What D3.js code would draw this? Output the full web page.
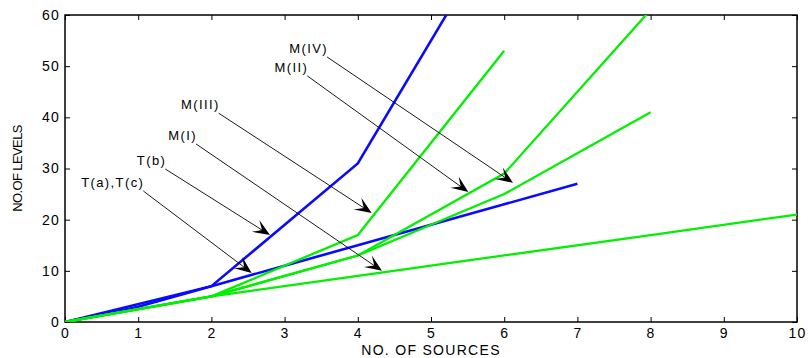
<!DOCTYPE html>
<html>
<head>
<meta charset="utf-8">
<script src="https://cdnjs.cloudflare.com/ajax/libs/d3/7.8.5/d3.min.js"></script>
<style>
  body { margin: 0; background: #fff; }
  text { font-family: "Liberation Sans", Arial, Helvetica, sans-serif; fill: #000; }
</style>
</head>
<body>
<div id="chart"></div>
<script>
// x values (no. of sources) and y values (no. of levels) per curve
var taX = [0, 1, 2, 3, 4, 5, 6, 7];
var taY = [0, 3, 7, 11, 15, 19, 23, 27];
var tbX = [0, 2, 4, 6];
var tbY = [0, 7, 31, 79];
var m1X = [0, 2, 4, 6, 8, 10];
var m1Y = [0, 5, 9, 13, 17, 21];
var m2X = [0, 2, 4, 6, 8];
var m2Y = [0, 5, 13, 25, 41];
var m3X = [0, 2, 4, 6];
var m3Y = [0, 5, 17, 53];
var m4X = [0, 2, 4, 6, 8];
var m4Y = [0, 5, 13, 29, 61];

var xTicks = [0, 1, 2, 3, 4, 5, 6, 7, 8, 9, 10];
var yTicks = [0, 10, 20, 30, 40, 50, 60];

// annotation labels with tail and head of the arrow, in data units
var labels = ["M(IV)", "M(II)", "M(III)", "M(I)", "T(b)", "T(a),T(c)"];
var tailX = [3.58, 3.31, 2.10, 1.79, 1.37, 1.07];
var tailY = [51.8, 48.1, 40.8, 34.8, 29.9, 25.6];
var headX = [6.12, 5.51, 4.19, 4.33, 2.80, 2.55];
var headY = [27.2, 25.4, 21.3, 10.0, 17.0, 9.6];

var width = 808, height = 358;
var margin = {top: 15, right: 11, bottom: 36, left: 65};

var svg = d3.select("#chart").append("svg")
  .attr("width", width)
  .attr("height", height);

var x = d3.scaleLinear().domain([0, 10]).range([margin.left, width - margin.right]);
var y = d3.scaleLinear().domain([0, 60]).range([height - margin.bottom, margin.top]);

svg.append("defs").append("clipPath")
  .attr("id", "plotclip")
  .append("rect")
  .attr("x", x(0))
  .attr("y", y(60))
  .attr("width", x(10) - x(0))
  .attr("height", y(0) - y(60));

function styleAxis(g) {
  g.select(".domain").remove();
  g.selectAll(".tick line").attr("stroke", "#000");
  g.selectAll("text")
    .style("font-size", "14px")
    .style("letter-spacing", "1.2px")
    .attr("fill", "#000");
}

// inward ticks on all four sides
svg.append("g")
  .attr("transform", "translate(0," + y(0) + ")")
  .call(d3.axisBottom(x).tickValues(xTicks).tickSize(-5).tickSizeOuter(0).tickPadding(6))
  .call(styleAxis);
svg.append("g")
  .attr("transform", "translate(0," + y(60) + ")")
  .call(d3.axisTop(x).tickValues(xTicks).tickSize(-5).tickSizeOuter(0).tickFormat(""))
  .call(styleAxis);
svg.append("g")
  .attr("transform", "translate(" + x(0) + ",0)")
  .call(d3.axisLeft(y).tickValues(yTicks).tickSize(-5).tickSizeOuter(0).tickPadding(5))
  .call(styleAxis);
svg.append("g")
  .attr("transform", "translate(" + x(10) + ",0)")
  .call(d3.axisRight(y).tickValues(yTicks).tickSize(-5).tickSizeOuter(0).tickFormat(""))
  .call(styleAxis);

svg.append("rect")
  .attr("x", x(0))
  .attr("y", y(60))
  .attr("width", x(10) - x(0))
  .attr("height", y(0) - y(60))
  .attr("fill", "none")
  .attr("stroke", "#000")
  .attr("stroke-width", 1.5);

var line = d3.line()
  .x(function(d) { return x(d[0]); })
  .y(function(d) { return y(d[1]); });

function drawCurve(xs, ys, color, w) {
  svg.append("path")
    .datum(d3.zip(xs, ys))
    .attr("clip-path", "url(#plotclip)")
    .attr("fill", "none")
    .attr("stroke", color)
    .attr("stroke-width", w)
    .attr("stroke-linejoin", "miter")
    .attr("d", line);
}

var blue = "#0a0aff", green = "#00f000";
drawCurve(taX, taY, blue, 2.6);
drawCurve(tbX, tbY, blue, 2.6);
drawCurve(m1X, m1Y, green, 2.3);
drawCurve(m2X, m2Y, green, 2.3);
drawCurve(m3X, m3Y, green, 2.3);
drawCurve(m4X, m4Y, green, 2.3);

// annotation arrows, matlab style notched heads
var ann = svg.append("g");
labels.forEach(function(lab, i) {
  var x1 = x(tailX[i]), y1 = y(tailY[i]);
  var x2 = x(headX[i]), y2 = y(headY[i]);
  var ang = Math.atan2(y2 - y1, x2 - x1) * 180 / Math.PI;
  var L = 17, W = 7;

  ann.append("line")
    .attr("x1", x1).attr("y1", y1)
    .attr("x2", x2 - 9 * Math.cos(ang * Math.PI / 180))
    .attr("y2", y2 - 9 * Math.sin(ang * Math.PI / 180))
    .attr("stroke", "#000")
    .attr("stroke-width", 0.9);

  ann.append("path")
    .attr("d", "M0,0L" + (-L) + "," + (-W) + "L" + (-L * 0.55) + ",0L" + (-L) + "," + W + "Z")
    .attr("transform", "translate(" + x2 + "," + y2 + ") rotate(" + ang + ")")
    .attr("fill", "#000");

  ann.append("text")
    .attr("x", x1 + 1)
    .attr("y", y1 - 4)
    .attr("text-anchor", "end")
    .style("font-size", "13px")
    .style("letter-spacing", "1.4px")
    .text(lab);
});

svg.append("text")
  .attr("x", (x(0) + x(10)) / 2)
  .attr("y", 355)
  .attr("text-anchor", "middle")
  .style("font-size", "14px")
  .style("letter-spacing", "1.3px")
  .text("NO. OF SOURCES");

svg.append("text")
  .attr("transform", "translate(22," + ((y(0) + y(60)) / 2) + ") rotate(-90)")
  .attr("text-anchor", "middle")
  .style("font-size", "13px")
  .style("letter-spacing", "-0.6px")
  .text("NO.OF LEVELS");
</script>
</body>
</html>
